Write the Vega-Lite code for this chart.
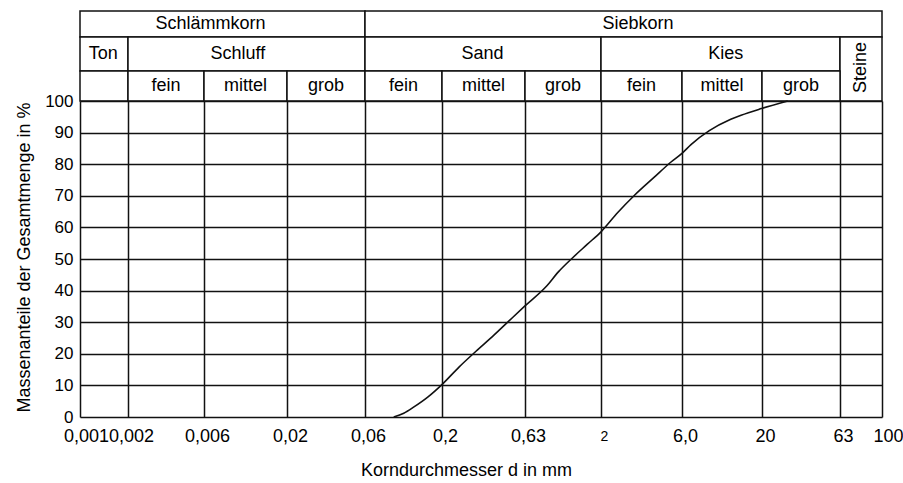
{
  "$schema": "https://vega.github.io/schema/vega-lite/v6.json",
  "padding": {"left": 14, "top": 10, "right": 8, "bottom": 4},
  "bounds": "flush",
  "spacing": 0,
  "config": {
    "font": "Liberation Sans",
    "view": {"stroke": null},
    "axis": {
      "labelFont": "Liberation Sans",
      "titleFont": "Liberation Sans",
      "labelColor": "#000",
      "titleColor": "#000",
      "labelFontSize": 17,
      "titleFontSize": 18,
      "titleFontWeight": "normal"
    }
  },
  "resolve": {"scale": {"x": "independent"}},
  "vconcat": [
    {
      "width": 802,
      "height": 90,
      "data": {
        "values": [
          {"label": "Schlämmkorn", "lo": 0.001, "hi": 0.06, "tierLo": 2, "tierHi": 3, "at": 0.0066, "mid": 2.5},
          {"label": "Siebkorn", "lo": 0.06, "hi": 100, "tierLo": 2, "tierHi": 3, "at": 3.3, "mid": 2.5},
          {"label": "Ton", "lo": 0.001, "hi": 0.002, "tierLo": 1, "tierHi": 2, "at": 0.0014, "mid": 1.5},
          {"label": "Schluff", "lo": 0.002, "hi": 0.06, "tierLo": 1, "tierHi": 2, "at": 0.0098, "mid": 1.5},
          {"label": "Sand", "lo": 0.06, "hi": 2, "tierLo": 1, "tierHi": 2, "at": 0.35, "mid": 1.5},
          {"label": "Kies", "lo": 2, "hi": 63, "tierLo": 1, "tierHi": 2, "at": 11.6, "mid": 1.5},
          {"label": "Steine", "lo": 63, "hi": 100, "tierLo": 0, "tierHi": 2, "at": 79.4, "mid": 1.1},
          {"label": "", "lo": 0.001, "hi": 0.002, "tierLo": 0, "tierHi": 1, "at": 0.0014, "mid": 0.5},
          {"label": "fein", "lo": 0.002, "hi": 0.006, "tierLo": 0, "tierHi": 1, "at": 0.00346, "mid": 0.5},
          {"label": "mittel", "lo": 0.006, "hi": 0.02, "tierLo": 0, "tierHi": 1, "at": 0.01095, "mid": 0.5},
          {"label": "grob", "lo": 0.02, "hi": 0.06, "tierLo": 0, "tierHi": 1, "at": 0.0346, "mid": 0.5},
          {"label": "fein", "lo": 0.06, "hi": 0.2, "tierLo": 0, "tierHi": 1, "at": 0.1095, "mid": 0.5},
          {"label": "mittel", "lo": 0.2, "hi": 0.63, "tierLo": 0, "tierHi": 1, "at": 0.355, "mid": 0.5},
          {"label": "grob", "lo": 0.63, "hi": 2, "tierLo": 0, "tierHi": 1, "at": 1.122, "mid": 0.5},
          {"label": "fein", "lo": 2, "hi": 6, "tierLo": 0, "tierHi": 1, "at": 3.46, "mid": 0.5},
          {"label": "mittel", "lo": 6, "hi": 20, "tierLo": 0, "tierHi": 1, "at": 10.95, "mid": 0.5},
          {"label": "grob", "lo": 20, "hi": 63, "tierLo": 0, "tierHi": 1, "at": 35.5, "mid": 0.5}
        ]
      },
      "layer": [
        {
          "mark": {"type": "rect", "fill": "white", "stroke": "#111", "strokeWidth": 1.5},
          "encoding": {
            "x": {
              "field": "lo", "type": "quantitative", "axis": null,
              "scale": {"type": "log", "nice": false,
                "domain": [0.001, 0.002, 0.006, 0.02, 0.06, 0.2, 0.63, 2, 6, 20, 63, 100],
                "range": [0, 48, 124, 207, 285, 362, 445, 521, 602, 682, 760, 802]}
            },
            "x2": {"field": "hi"},
            "y": {
              "field": "tierLo", "type": "quantitative", "axis": null,
              "scale": {"nice": false, "zero": false, "domain": [0, 1, 2, 3], "range": [90, 60, 26, 0]}
            },
            "y2": {"field": "tierHi"}
          }
        },
        {
          "transform": [{"filter": "datum.label != 'Steine'"}],
          "mark": {"type": "text", "font": "Liberation Sans", "fontSize": 18, "color": "#000", "baseline": "middle", "align": "center"},
          "encoding": {
            "x": {"field": "at", "type": "quantitative"},
            "y": {"field": "mid", "type": "quantitative"},
            "text": {"field": "label"}
          }
        },
        {
          "transform": [{"filter": "datum.label == 'Steine'"}],
          "mark": {"type": "text", "font": "Liberation Sans", "fontSize": 18, "color": "#000", "baseline": "middle", "align": "center", "angle": 270},
          "encoding": {
            "x": {"field": "at", "type": "quantitative"},
            "y": {"field": "mid", "type": "quantitative"},
            "text": {"field": "label"}
          }
        }
      ]
    },
    {
      "width": 802,
      "height": 316,
      "data": {
        "values": [
          {"d": 0.094, "p": 0},
          {"d": 0.11, "p": 1.2},
          {"d": 0.129, "p": 3.2},
          {"d": 0.16, "p": 6.3},
          {"d": 0.202, "p": 10.5},
          {"d": 0.253, "p": 15.8},
          {"d": 0.32, "p": 20.8},
          {"d": 0.41, "p": 25.9},
          {"d": 0.507, "p": 30.5},
          {"d": 0.625, "p": 35.0},
          {"d": 0.866, "p": 41.2},
          {"d": 1.05, "p": 46.0},
          {"d": 1.3, "p": 50.4},
          {"d": 1.62, "p": 54.6},
          {"d": 2.0, "p": 58.6},
          {"d": 2.51, "p": 64.7},
          {"d": 3.14, "p": 70.1},
          {"d": 4.12, "p": 75.9},
          {"d": 5.17, "p": 80.7},
          {"d": 6.05, "p": 83.6},
          {"d": 6.87, "p": 86.2},
          {"d": 9.05, "p": 90.6},
          {"d": 12.5, "p": 94.2},
          {"d": 14.6, "p": 95.5},
          {"d": 19.8, "p": 97.6},
          {"d": 29.2, "p": 100}
        ]
      },
      "mark": {"type": "line", "interpolate": "monotone", "color": "#111", "strokeWidth": 1.6},
      "encoding": {
        "x": {
          "field": "d", "type": "quantitative",
          "scale": {"type": "log", "nice": false,
            "domain": [0.001, 0.002, 0.006, 0.02, 0.06, 0.2, 0.63, 2, 6, 20, 63, 100],
            "range": [0, 48, 124, 207, 285, 362, 445, 521, 602, 682, 760, 802]},
          "axis": {
            "values": [0.001, 0.002, 0.006, 0.02, 0.06, 0.2, 0.63, 2, 6, 20, 63, 100],
            "labelExpr": "datum.value == 6 ? '6,0' : replace(toString(datum.value), '.', ',')",
            "labelFontSize": {"condition": {"test": "datum.value == 2", "value": 14}, "value": 18},
            "labelOffset": {"condition": {"test": "datum.value == 0.001 || datum.value == 100", "value": 6}, "value": 3},
            "grid": true, "gridColor": "#111", "gridWidth": 1.5, "gridOpacity": 1,
            "domain": false, "ticks": false, "tickSize": 0,
            "labelPadding": 19, "labelBaseline": "middle", "labelAlign": "center",
            "labelOverlap": false, "labelBound": false, "labelFlush": false,
            "title": "Korndurchmesser d in mm",
            "titleX": 386, "titleY": 53, "titleAlign": "center", "titleBaseline": "middle"
          }
        },
        "y": {
          "field": "p", "type": "quantitative",
          "scale": {"domain": [0, 100], "nice": false},
          "axis": {
            "values": [0, 10, 20, 30, 40, 50, 60, 70, 80, 90, 100],
            "grid": true, "gridColor": "#111", "gridWidth": 1.5, "gridOpacity": 1,
            "domain": false, "ticks": false, "tickSize": 0,
            "labelPadding": 7, "labelBaseline": "middle",
            "labelOverlap": false, "labelBound": false, "labelFlush": false,
            "title": "Massenanteile der Gesamtmenge in %",
            "titleX": -56, "titleY": 156, "titleAngle": 270,
            "titleAlign": "center", "titleBaseline": "middle"
          }
        }
      }
    }
  ]
}
